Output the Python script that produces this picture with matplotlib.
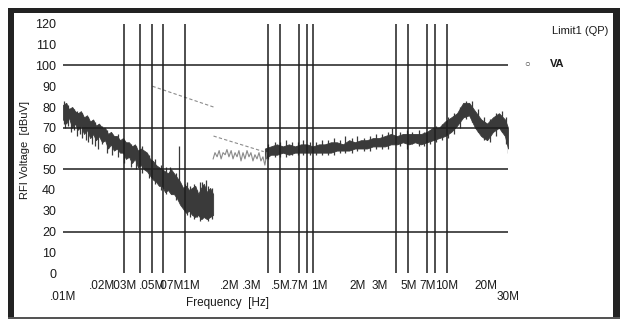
import matplotlib.pyplot as plt
from matplotlib.patches import Rectangle

plt.rcParams['font.family'] = ['Liberation Sans', 'DejaVu Sans']

# conducted emission scan, frequency in MHz, level in dBuV
# low band (dark band: upper / lower edge of the noisy trace)
f_low = [0.0100, 0.0106, 0.0111, 0.0118, 0.0124, 0.0131, 0.0138, 0.0146, 0.0154, 0.0163,
         0.0172, 0.0181, 0.0191, 0.0202, 0.0213, 0.0225, 0.0237, 0.0250, 0.0264, 0.0279,
         0.0294, 0.0310, 0.0328, 0.0346, 0.0365, 0.0385, 0.0407, 0.0429, 0.0453, 0.0478,
         0.0505, 0.0533, 0.0562, 0.0594, 0.0627, 0.0661, 0.0698, 0.0737, 0.0778, 0.0821,
         0.0867, 0.0915, 0.0966, 0.102, 0.108, 0.114, 0.120, 0.126, 0.133, 0.141, 0.149]
hi_low = [81, 82, 79, 80, 78, 77, 78, 75, 76, 73,
          74, 71, 72, 70, 70, 67, 68, 66, 66, 64,
          65, 63, 63, 61, 62, 59, 60, 59, 58, 55,
          54, 52, 51, 50, 49, 48, 50, 48, 46, 44,
          41, 42, 40, 41, 42, 38, 41, 43, 39, 41, 38]
lo_low = [74, 72, 75, 70, 72, 69, 71, 67, 69, 65,
          67, 64, 66, 63, 64, 60, 62, 59, 60, 58,
          58, 55, 56, 53, 55, 51, 52, 50, 49, 47,
          45, 44, 42, 42, 39, 40, 38, 38, 36, 33,
          31, 29, 30, 28, 27, 28, 26, 27, 26, 27, 28]

# single spikes sticking out of the band
spike_f = [0.0102, 0.0104, 0.0109, 0.0115, 0.0121, 0.0128, 0.0135, 0.0142, 0.0150, 0.0158,
           0.0168, 0.0177, 0.0187, 0.0200, 0.0219, 0.0243, 0.0270, 0.0300, 0.0338, 0.0375,
           0.0418, 0.0466, 0.0520, 0.0580, 0.0640, 0.0690, 0.0760, 0.0810, 0.0890, 0.0930,
           0.0990, 0.105, 0.111, 0.117, 0.123, 0.131, 0.137, 0.145]
spike_lo = [72, 70, 71, 68, 69, 66, 67, 65, 64, 63,
            62, 61, 60, 62, 58, 57, 56, 53, 51, 50,
            48, 46, 43, 40, 38, 42, 35, 40, 30, 28,
            27, 26, 27, 25, 26, 27, 25, 26]
spike_hi = [83, 80, 81, 79, 79, 78, 76, 77, 74, 75,
            73, 73, 70, 71, 69, 67, 67, 64, 62, 61,
            61, 57, 55, 52, 51, 51, 48, 61, 43, 44,
            42, 43, 40, 44, 44, 45, 42, 41]

# mid band (light trace)
f_mid = [0.149, 0.154, 0.160, 0.166, 0.172, 0.178, 0.185, 0.191, 0.198, 0.206,
         0.213, 0.221, 0.229, 0.237, 0.246, 0.255, 0.264, 0.274, 0.284, 0.294,
         0.305, 0.316, 0.328, 0.340, 0.352, 0.365, 0.378, 0.392]
v_mid = [55, 58, 56, 59, 55, 58, 57, 59.5, 56, 59,
         55, 58, 56, 59, 54, 58, 55, 59, 56, 58,
         54, 57, 55, 58, 54, 56, 52, 58]

# high band (dark band again)
f_high = [0.378, 0.421, 0.469, 0.523, 0.582, 0.649, 0.723, 0.805, 0.897, 1.00,
          1.11, 1.24, 1.38, 1.54, 1.72, 1.91, 2.13, 2.37, 2.64, 2.94,
          3.28, 3.65, 4.07, 4.53, 5.05, 5.63, 6.27, 6.98, 7.78, 8.67,
          9.66, 10.8, 12.0, 13.4, 14.9, 16.6, 18.5, 20.6, 22.9, 25.5, 28.4, 30.0]
hi_high = [60, 61, 62, 61, 62, 61, 62, 62, 61, 62,
           62, 63, 63, 62, 64, 63, 64, 64, 65, 65,
           66, 67, 66, 67, 67, 67, 67, 68, 70, 70,
           73, 75, 77, 82, 82, 78, 74, 72, 75, 77, 74, 70]
lo_high = [55, 57, 57, 58, 57, 58, 58, 58, 58, 58,
           58, 58, 59, 59, 59, 60, 60, 60, 61, 61,
           61, 62, 62, 63, 62, 63, 62, 63, 64, 65,
           66, 68, 71, 75, 76, 70, 66, 64, 68, 70, 66, 60]

spike2_f = [0.40, 0.45, 0.50, 0.55, 0.62, 0.68, 0.75, 0.85, 0.95, 1.05,
            1.18, 1.30, 1.45, 1.60, 1.80, 2.00, 2.25, 2.50, 2.80, 3.10,
            3.45, 3.70, 4.30, 4.90, 5.30, 6.10, 6.60, 7.40, 8.20, 9.20,
            10.2, 11.4, 12.7, 14.1, 15.7, 17.5, 19.5, 21.8, 24.2, 27.0, 28.8, 30.0]
spike2_lo = [55, 56, 56, 56, 57, 57, 57, 57, 57, 57,
             57, 57, 58, 58, 58, 59, 59, 59, 60, 60,
             60, 62, 61, 60, 62, 61, 61, 62, 63, 64,
             65, 67, 70, 74, 73, 68, 64, 63, 66, 68, 62, 58]
spike2_hi = [62, 63, 63, 64, 63, 63, 64, 63, 63, 64,
             64, 65, 64, 66, 65, 66, 65, 66, 67, 67,
             68, 70, 68, 69, 68, 69, 68, 69, 71, 72,
             75, 77, 80, 83, 83, 79, 75, 74, 77, 78, 75, 63]

# QP limit lines
lim1_f = [0.05, 0.15]
lim1_v = [90, 80]
lim2_f = [0.15, 0.37]
lim2_v = [66, 58.5]

# marker lines drawn over the chart
vline_f = [0.03, 0.04, 0.05, 0.06, 0.09, 0.4, 0.5, 0.7, 0.8, 0.9, 4, 5, 7, 8, 10]
hline_v = [20, 50, 70, 100]

tick_f = [0.02, 0.03, 0.05, 0.07, 0.1, 0.2, 0.3, 0.5, 0.7, 1, 2, 3, 5, 7, 10, 20]
tick_lab = ['.02M', '.03M', '.05M', '.07M', '.1M', '.2M', '.3M', '.5M', '.7M',
            '1M', '2M', '3M', '5M', '7M', '10M', '20M']
yticks = list(range(0, 121, 10))

W, H = 622, 320
fig = plt.figure(figsize=(W / 100, H / 100), dpi=100)
ax = fig.add_axes([63 / W, 47 / H, 445 / W, 249 / H])
ax.set_xscale('log')
ax.set_xlim(0.01, 30)
ax.set_ylim(0, 120)
for s in ax.spines.values():
    s.set_visible(False)

trace = '#3a3a3a'
ax.fill_between(f_low, lo_low, hi_low, color=trace, lw=0.6, edgecolor=trace)
ax.vlines(spike_f, spike_lo, spike_hi, color=trace, lw=0.9)
ax.plot(f_mid, v_mid, color='#8a8a8a', lw=0.8)
ax.fill_between(f_high, lo_high, hi_high, color=trace, lw=0.6, edgecolor=trace)
ax.vlines(spike2_f, spike2_lo, spike2_hi, color=trace, lw=0.9)

ax.plot(lim1_f, lim1_v, color='#8c8c8c', lw=0.8, ls=(0, (3, 2)))
ax.plot(lim2_f, lim2_v, color='#8c8c8c', lw=0.8, ls=(0, (3, 2)))

ax.vlines(vline_f, 0, 120, color='#1e1e1e', lw=1.1)
ax.hlines(hline_v, 0.01, 30, color='#1e1e1e', lw=1.1)

ax.set_xticks([])
ax.set_xticks([], minor=True)
ax.set_yticks(yticks)
ax.set_yticklabels([str(v) for v in yticks], fontsize=9)
ax.tick_params(axis='y', length=0, pad=5, colors='#1a1a1a')

for f, t in zip(tick_f, tick_lab):
    ax.text(f, -0.052, t, transform=ax.get_xaxis_transform(), ha='center', va='center',
            fontsize=8.5, color='#1a1a1a')
ax.text(0.01, -0.096, '.01M', transform=ax.get_xaxis_transform(), ha='center', va='center',
        fontsize=8.5, color='#1a1a1a')
ax.text(30, -0.096, '30M', transform=ax.get_xaxis_transform(), ha='center', va='center',
        fontsize=8.5, color='#1a1a1a')

fig.text(228 / W, 1 - 303 / H, 'Frequency  [Hz]', ha='center', va='center', fontsize=8.5,
         color='#1a1a1a')
fig.text(25 / W, 1 - 150 / H, 'RFI Voltage  [dBuV]', ha='center', va='center', fontsize=8,
         rotation=90, color='#1a1a1a')

fig.text(580 / W, 1 - 31 / H, 'Limit1 (QP)', ha='center', va='center', fontsize=8,
         color='#1a1a1a')
fig.text(527 / W, 1 - 64 / H, '○', ha='center', va='center', fontsize=7, color='#444444')
fig.text(557 / W, 1 - 64 / H, 'VA', ha='center', va='center', fontsize=8,
         fontweight='bold', color='#1a1a1a')

# frame around the whole picture
frame = '#222222'
fig.add_artist(Rectangle((8 / W, 1 - 318 / H), 6 / W, 310 / H, transform=fig.transFigure,
                         color=frame, lw=0))
fig.add_artist(Rectangle((8 / W, 1 - 13 / H), 612 / W, 5 / H, transform=fig.transFigure,
                         color=frame, lw=0))
fig.add_artist(Rectangle((613 / W, 1 - 318 / H), 7 / W, 310 / H, transform=fig.transFigure,
                         color=frame, lw=0))
fig.add_artist(Rectangle((8 / W, 1 - 319 / H), 612 / W, 2 / H, transform=fig.transFigure,
                         color='#555555', lw=0))

fig.savefig('out.png', dpi=100)
